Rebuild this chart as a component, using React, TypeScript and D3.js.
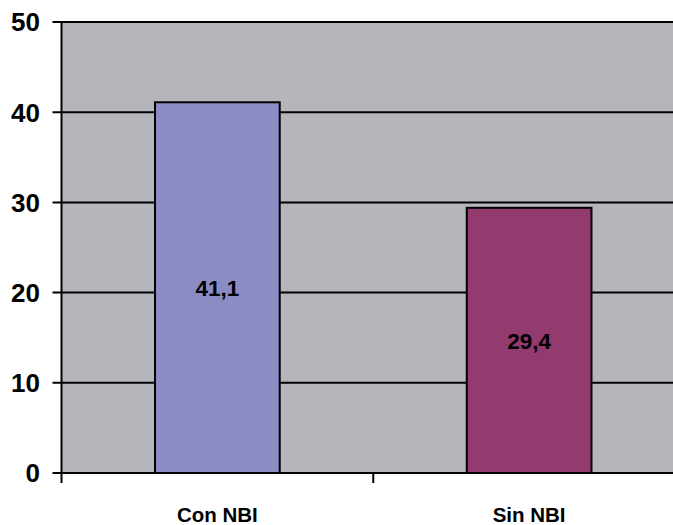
import React from "react";
import * as d3 from "d3";

const categories = ["Con NBI", "Sin NBI"];
const values = [41.1, 29.4];
const valueLabels = ["41,1", "29,4"];
const yTicks = [0, 10, 20, 30, 40, 50];
const colors = ["#8c8cc5", "#933a6f"];

export default function App() {
  const W = 673, H = 525;
  const left = 61.5, right = 685, top = 22, bottom = 473;
  const x = d3.scaleBand<string>().domain(categories).range([left, right]).paddingInner(0.6).paddingOuter(0.3);
  const y = d3.scaleLinear().domain([0, 50]).range([bottom, top]);
  const step = x.step();
  const font = "'Liberation Sans', Arial, sans-serif";
  return (
    <div style={{ position: "absolute", left: 0, top: 0 }}>
      <svg width={W} height={H} style={{ display: "block" }}>
        <rect x={left} y={top} width={right - left} height={bottom - top} fill="#b5b6bb" />
        {yTicks.map((t) => (
          <g key={t}>
            <line x1={left - 9} x2={right} y1={y(t)} y2={y(t)} stroke="#000" strokeWidth={2} />
            <text x={40} y={y(t)} dy="0.36em" textAnchor="end" fontFamily={font} fontWeight="bold" fontSize={26} fill="#000">{t}</text>
          </g>
        ))}
        {categories.map((c, i) => (
          <g key={c}>
            <rect x={x(c)!} y={y(values[i])} width={x.bandwidth()} height={bottom - y(values[i])} fill={colors[i]} stroke="#000" strokeWidth={2} />
            <text x={x(c)! + x.bandwidth() / 2} y={(y(values[i]) + bottom) / 2} dy="0.36em" textAnchor="middle" fontFamily={font} fontWeight="bold" fontSize={22.5} fill="#000">{valueLabels[i]}</text>
            <text x={x(c)! + x.bandwidth() / 2} y={522} textAnchor="middle" fontFamily={font} fontWeight="bold" fontSize={20.5} fill="#000">{c}</text>
          </g>
        ))}
        {[0, 1, 2].map((k) => (
          <line key={k} x1={left + k * step} x2={left + k * step} y1={bottom} y2={bottom + 10} stroke="#000" strokeWidth={2} />
        ))}
        <line x1={left} x2={left} y1={top} y2={bottom} stroke="#000" strokeWidth={2} />
      </svg>
    </div>
  );
}
